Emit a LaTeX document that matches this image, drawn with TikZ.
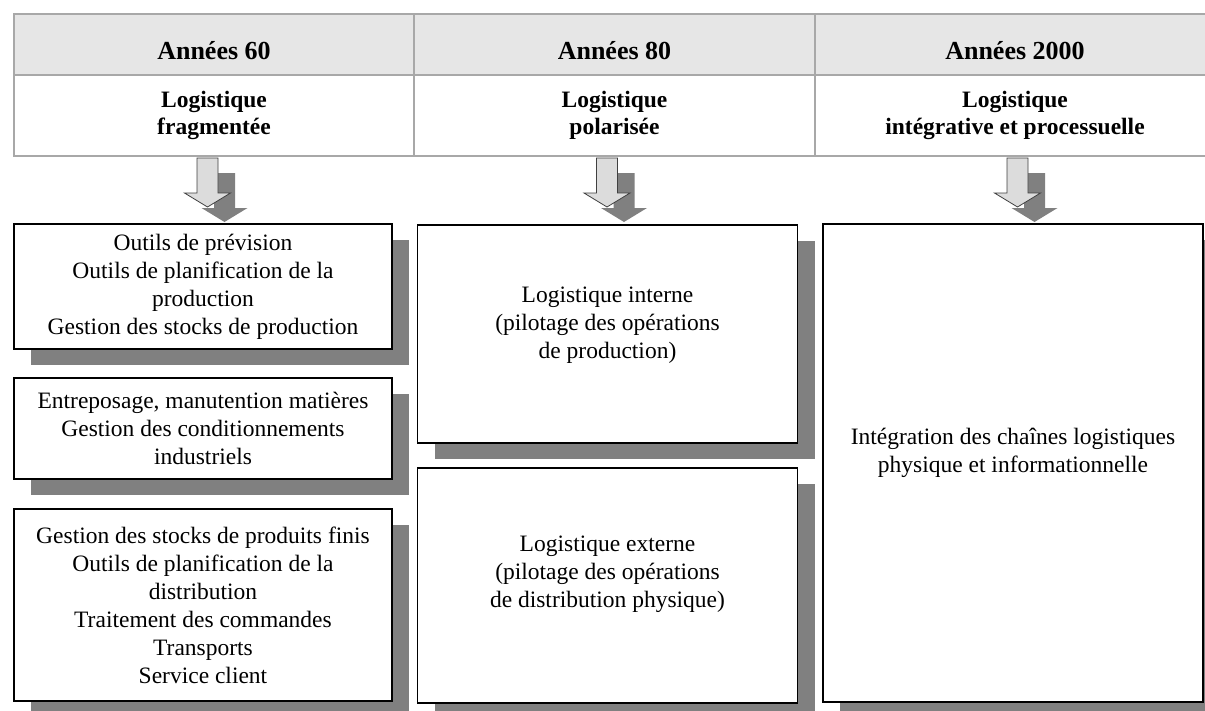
\documentclass[tikz,border=0pt]{standalone}
\usepackage{fontspec}
\setmainfont{Liberation Serif}
\usetikzlibrary{shadows}

\definecolor{entete}{HTML}{E6E6E6}
\definecolor{trait}{HTML}{A8A8A8}
\definecolor{ombre}{HTML}{808080}
\definecolor{flechefond}{HTML}{DCDCDC}

\tikzset{
  cellule/.style={draw=trait, line width=1.5pt, minimum width=400pt, inner sep=0pt, align=center},
  titre/.style={cellule, fill=entete, minimum height=61pt, font=\bfseries\fontsize{26}{30}\selectfont},
  sous/.style={cellule, minimum height=81pt, font=\bfseries\fontsize{23.5}{27}\selectfont},
  boite/.style={draw=black, line width=1.3pt, fill=white, align=center, inner sep=0pt,
    font=\fontsize{23.5}{28}\selectfont,
    drop shadow={shadow xshift=17pt, shadow yshift=-16pt, fill=ombre, opacity=1}},
  pics/fleche/.style={code={
    \fill[ombre] (6.5,15) -- (27.5,15) -- (27.5,50) -- (40,50) -- (17,64) -- (-6,50) -- (6.5,50) -- cycle;
    \filldraw[fill=flechefond, draw=black!75, line width=0.8pt] (-10.5,0) -- (10.5,0) -- (10.5,35) -- (23,35) -- (0,49) -- (-23,35) -- (-10.5,35) -- cycle;
  }},
}

\begin{document}
\begin{tikzpicture}[x=1pt, y=-1pt]
        \useasboundingbox (0,0) rectangle (1205,710);

        % Tableau des périodes
        \node[titre] (t60) at (214,44.5) {\rule{0pt}{30pt}Années 60};
        \node[titre] (t80) at (614.5,44.5) {\rule{0pt}{30pt}Années 80};
        \node[titre] (t2000) at (1015,44.5) {\rule{0pt}{30pt}Années 2000};
        \node[sous] (l60) at (214,115.5) {Logistique\\fragmentée};
        \node[sous] (l80) at (614.5,115.5) {Logistique\\polarisée};
        \node[sous] (l2000) at (1015,115.5) {Logistique\\intégrative et processuelle};

        % Flèches
        \pic (f60) at (207.5,158) {fleche};
        \pic (f80) at (607,158) {fleche};
        \pic (f2000) at (1017.5,158) {fleche};

        % Logistique fragmentée
        \node[boite, minimum width=378pt, minimum height=125pt] (a1) at (203,286.5)
            {Outils de prévision\\Outils de planification de la\\production\\Gestion des stocks de production};
        \node[boite, minimum width=378pt, minimum height=101pt] (a2) at (203,428.5)
            {Entreposage, manutention matières\\Gestion des conditionnements\\industriels};
        \node[boite, minimum width=378pt, minimum height=192pt] (a3) at (203,605)
            {Gestion des stocks de produits finis\\Outils de planification de la\\distribution\\Traitement des commandes\\Transports\\Service client};

        % Logistique polarisée
        \node[boite, minimum width=380pt, minimum height=218pt] (b1) at (607.5,334)
            {Logistique interne\\(pilotage des opérations\\de production)\rule[-22pt]{0pt}{22pt}};
        \node[boite, minimum width=380pt, minimum height=235pt] (b2) at (607.5,585.5)
            {Logistique externe\\(pilotage des opérations\\de distribution physique)\rule[-27pt]{0pt}{27pt}};

        % Logistique intégrative
        \node[boite, minimum width=380pt, minimum height=478pt] (c1) at (1013,463)
            {Intégration des chaînes logistiques\\physique et informationnelle\rule[-25pt]{0pt}{25pt}};

\end{tikzpicture}
\end{document}
